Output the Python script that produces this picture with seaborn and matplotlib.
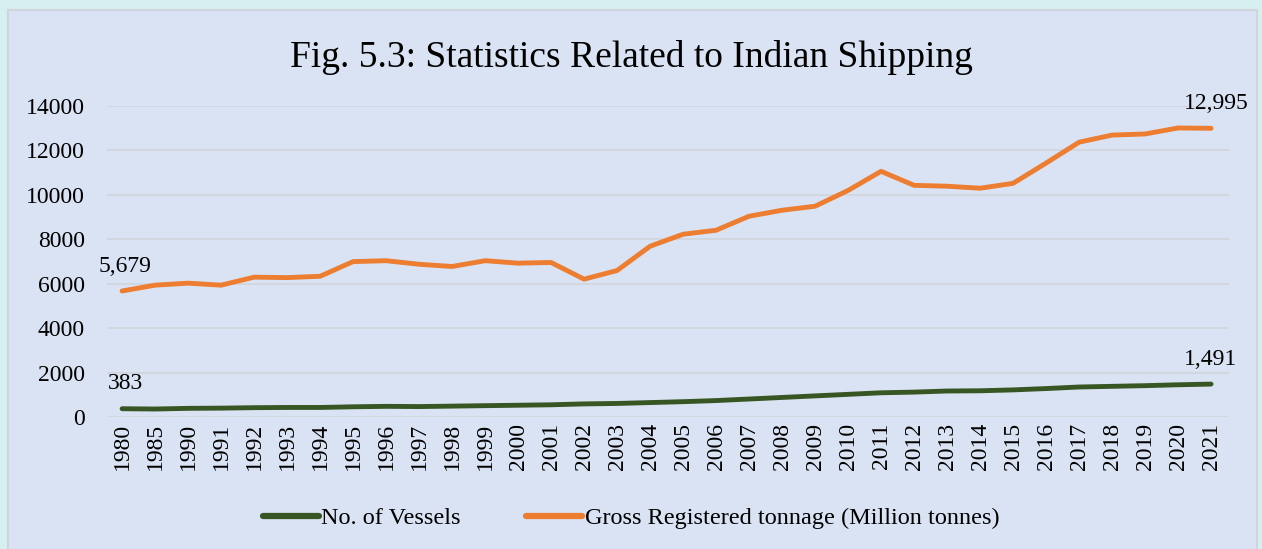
import pandas as pd
import matplotlib.pyplot as plt
import seaborn as sns
from matplotlib.patches import Rectangle

# data
years = ["1980", "1985", "1990", "1991", "1992", "1993", "1994", "1995", "1996", "1997",
         "1998", "1999", "2000", "2001", "2002", "2003", "2004", "2005", "2006", "2007",
         "2008", "2009", "2010", "2011", "2012", "2013", "2014", "2015", "2016", "2017",
         "2018", "2019", "2020", "2021"]
vessels = [383, 370, 400, 410, 430, 440, 440, 470, 490, 480,
           500, 520, 540, 560, 600, 620, 660, 700, 750, 820,
           890, 960, 1030, 1100, 1130, 1180, 1190, 1230, 1290, 1360,
           1390, 1420, 1460, 1491]
tonnage = [5679, 5940, 6030, 5940, 6300, 6280, 6340, 7000, 7040, 6880,
           6780, 7040, 6930, 6960, 6210, 6600, 7690, 8230, 8410, 9040,
           9310, 9490, 10200, 11060, 10430, 10390, 10300, 10520, 11430, 12370,
           12690, 12740, 13010, 12995]

df = pd.DataFrame({"year": years, "No. of Vessels": vessels,
                   "Gross Registered tonnage (Million tonnes)": tonnage})
long = df.melt(id_vars="year", var_name="series", value_name="value")

panel = "#dae3f3"
sns.set_theme(style="white")
plt.rcParams["font.family"] = ["Liberation Serif", "DejaVu Serif"]
plt.rcParams["text.color"] = "black"
plt.rcParams["xtick.color"] = "black"
plt.rcParams["ytick.color"] = "black"

fig = plt.figure(figsize=(12.62, 5.49), dpi=100)
fig.patch.set_facecolor("#d6eff0")
fig.patches.append(Rectangle((8 / 1262, -0.01), 1249 / 1262, 1 - 10 / 549 + 0.01,
                             transform=fig.transFigure, facecolor=panel,
                             edgecolor="#d0d4dc", linewidth=1.5, zorder=-5))

ax = fig.add_axes([0.085, 0.240, 0.889, 0.567])
ax.set_facecolor(panel)

sns.lineplot(data=long, x="year", y="value", hue="series", ax=ax,
             palette=["#375623", "#ed7d31"], linewidth=3.5, sort=False,
             solid_capstyle="round", legend=True)

n = len(years)
ax.set_ylim(0, 14000)
ax.set_xlim(-0.45, n - 1 + 0.55)
ax.set_yticks(range(0, 14001, 2000))
ax.yaxis.grid(True, color="#d0d4dc", linewidth=1.2)
ax.set_axisbelow(True)
for s in ax.spines.values():
    s.set_visible(False)
ax.set_xlabel("")
ax.set_ylabel("")
ax.tick_params(axis="x", labelrotation=90, labelsize=17, length=0, pad=4)
ax.tick_params(axis="y", labelsize=17, length=0, pad=16)

# data labels on first and last points
ax.text(0.1, vessels[0] + 650, "383", fontsize=17, ha="center", va="bottom")
ax.text(n - 1, vessels[-1] + 650, "1,491", fontsize=17, ha="center", va="bottom")
ax.text(0.1, tonnage[0] + 650, "5,679", fontsize=17, ha="center", va="bottom")
ax.text(n - 0.85, tonnage[-1] + 650, "12,995", fontsize=17, ha="center", va="bottom")

fig.text(0.5, 0.895, "Fig. 5.3: Statistics Related to Indian Shipping",
         fontsize=27, ha="center", va="center")

# legend centred on the whole figure, like the reference
handles, labels = ax.get_legend_handles_labels()
ax.get_legend().remove()
leg = fig.legend(handles, labels, loc="center", bbox_to_anchor=(0.5, 1 - 518 / 549),
                 ncol=2, frameon=False, fontsize=17.5, handlelength=2.3,
                 handletextpad=0.1, columnspacing=2.7)
for line in leg.get_lines():
    line.set_linewidth(4.5)

plt.savefig("out.png", dpi=100, facecolor=fig.get_facecolor())
